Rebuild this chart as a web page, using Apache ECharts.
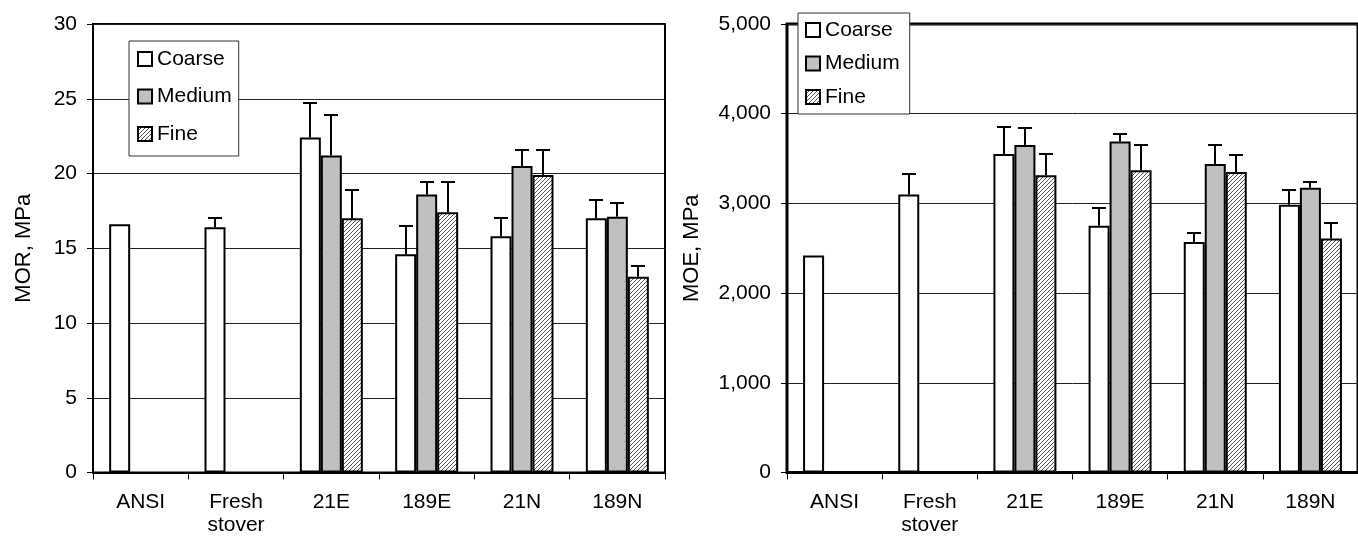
<!DOCTYPE html>
<html><head><meta charset="utf-8">
<script src="https://cdn.jsdelivr.net/npm/echarts@6/dist/echarts.min.js"></script>
<style>html,body{margin:0;padding:0;background:#fff}#c{width:1358px;height:542px}</style>
</head><body><div id="c"></div>
<script>
// ---------- data ----------
const categories = ['ANSI', 'Fresh\nstover', '21E', '189E', '21N', '189N'];
const seriesNames = ['Coarse', 'Medium', 'Fine'];

const morCoarse = [16.6, 16.4, 22.4, 14.6, 15.8, 17.0];
const morMedium = [null, null, 21.2, 18.6, 20.5, 17.1];
const morFine   = [null, null, 17.0, 17.4, 19.9, 13.1];
const morCoarseErr = [null, 0.6, 2.3, 1.9, 1.2, 1.2];
const morMediumErr = [null, null, 2.7, 0.8, 1.1, 0.9];
const morFineErr   = [null, null, 1.9, 2.0, 1.7, 0.7];

const moeCoarse = [2420, 3100, 3550, 2750, 2570, 2985];
const moeMedium = [null, null, 3650, 3690, 3440, 3175];
const moeFine   = [null, null, 3315, 3370, 3350, 2610];
const moeCoarseErr = [null, 230, 300, 200, 105, 160];
const moeMediumErr = [null, null, 190, 80, 215, 67];
const moeFineErr   = [null, null, 240, 280, 190, 170];

const morTicks = [0, 5, 10, 15, 20, 25, 30];
const moeTicks = [0, 1000, 2000, 3000, 4000, 5000];
const moeTickLabels = ['0', '1,000', '2,000', '3,000', '4,000', '5,000'];

const morTitle = 'MOR, MPa';
const moeTitle = 'MOE, MPa';

// ---------- styling ----------
const FONT = '"Liberation Sans", Arial, sans-serif';
const FS = 21;
const FS_TITLE = 22;
const BAR_W = 21;

function hatch() {
  const c = document.createElement('canvas');
  c.width = 4; c.height = 4;
  const g = c.getContext('2d');
  g.fillStyle = '#fff'; g.fillRect(0, 0, 4, 4);
  g.fillStyle = '#555';
  g.fillRect(3, 0, 1, 1); g.fillRect(2, 1, 1, 1); g.fillRect(1, 2, 1, 1); g.fillRect(0, 3, 1, 1);
  return { image: c, repeat: 'repeat' };
}
const fills = ['#ffffff', '#c0c0c0', hatch()];

function barSeries(gi, k, vals) {
  return {
    type: 'bar', name: seriesNames[k], xAxisIndex: gi, yAxisIndex: gi,
    data: vals, barWidth: BAR_W, barGap: '0%',
    itemStyle: { color: fills[k], borderColor: '#000', borderWidth: 2 },
    emphasis: { disabled: true }, silent: true, z: 3
  };
}
function errSeries(gi, k, vals, errs) {
  const data = [];
  vals.forEach((v, i) => { if (v != null && errs[i] != null) data.push([i, v, errs[i]]); });
  return {
    type: 'custom', xAxisIndex: gi, yAxisIndex: gi, silent: true, z: 4,
    data, encode: { x: 0, y: 1 },
    renderItem(params, api) {
      const i = api.value(0), v = api.value(1), e = api.value(2);
      const base = api.coord([i, v]);
      const top = api.coord([i, v + e]);
      const x = Math.round(base[0] + (k - 1) * BAR_W);
      const y = Math.round(top[1]);
      const cap = 7;
      return { type: 'group', children: [
        { type: 'line', shape: { x1: x, y1: base[1], x2: x, y2: y }, style: { stroke: '#000', lineWidth: 2 } },
        { type: 'line', shape: { x1: x - cap, y1: y, x2: x + cap, y2: y }, style: { stroke: '#000', lineWidth: 2 } }
      ]};
    }
  };
}

function xAxis(gi) {
  return {
    type: 'category', gridIndex: gi, data: categories,
    axisLine: { show: true, lineStyle: { color: '#000', width: 2 } },
    axisTick: { show: true, length: 7, interval: 0, lineStyle: { color: '#000', width: 1 } },
    axisLabel: { interval: 0, margin: 18, color: '#000', fontFamily: FONT, fontSize: FS, lineHeight: 23 },
    splitLine: { show: false }
  };
}
function yAxis(gi, ticks, title, gap, fmt) {
  return {
    type: 'value', gridIndex: gi, min: ticks[0], max: ticks[ticks.length - 1], interval: ticks[1] - ticks[0],
    name: title, nameLocation: 'middle', nameGap: gap, nameRotate: 90,
    nameTextStyle: { color: '#000', fontFamily: FONT, fontSize: FS_TITLE },
    axisLine: { show: true, lineStyle: { color: '#000', width: 2 } },
    axisTick: { show: true, inside: false, length: 6, lineStyle: { color: '#000', width: 1 } },
    axisLabel: { margin: 16, color: '#000', fontFamily: FONT, fontSize: FS, formatter: fmt },
    splitLine: { show: true, lineStyle: { color: '#222', width: 1 } }
  };
}
function legend(left, top, padding, gap) {
  return {
    data: seriesNames, orient: 'vertical', left, top, padding, itemGap: gap,
    itemWidth: 14, itemHeight: 14, icon: 'rect', selectedMode: false,
    backgroundColor: '#fff', borderColor: '#333', borderWidth: 1,
    itemStyle: { borderColor: '#000', borderWidth: 2 },
    textStyle: { color: '#000', fontFamily: FONT, fontSize: FS, lineHeight: 22 }
  };
}

const chart = echarts.init(document.getElementById('c'), null, { renderer: 'canvas' });
chart.setOption({
  animation: false,
  backgroundColor: '#fff',
  grid: [
    { left: 93, top: 24, width: 572, height: 448.5, show: true, borderColor: '#000', borderWidth: 2, backgroundColor: 'transparent', containLabel: false },
    { left: 787, top: 24, width: 572, height: 448.5, show: true, borderColor: '#000', borderWidth: 3, backgroundColor: 'transparent', containLabel: false }
  ],
  legend: [legend(129, 41, [7, 7, 11, 8], 15.5), legend(798, 13, [6, 10, 6, 7], 11.5)],
  xAxis: [xAxis(0), xAxis(1)],
  yAxis: [
    yAxis(0, morTicks, morTitle, 58, v => String(v)),
    yAxis(1, moeTicks, moeTitle, 84, v => moeTickLabels[moeTicks.indexOf(v)])
  ],
  series: [
    barSeries(0, 0, morCoarse), barSeries(0, 1, morMedium), barSeries(0, 2, morFine),
    errSeries(0, 0, morCoarse, morCoarseErr), errSeries(0, 1, morMedium, morMediumErr), errSeries(0, 2, morFine, morFineErr),
    barSeries(1, 0, moeCoarse), barSeries(1, 1, moeMedium), barSeries(1, 2, moeFine),
    errSeries(1, 0, moeCoarse, moeCoarseErr), errSeries(1, 1, moeMedium, moeMediumErr), errSeries(1, 2, moeFine, moeFineErr)
  ]
});
</script></body></html>
